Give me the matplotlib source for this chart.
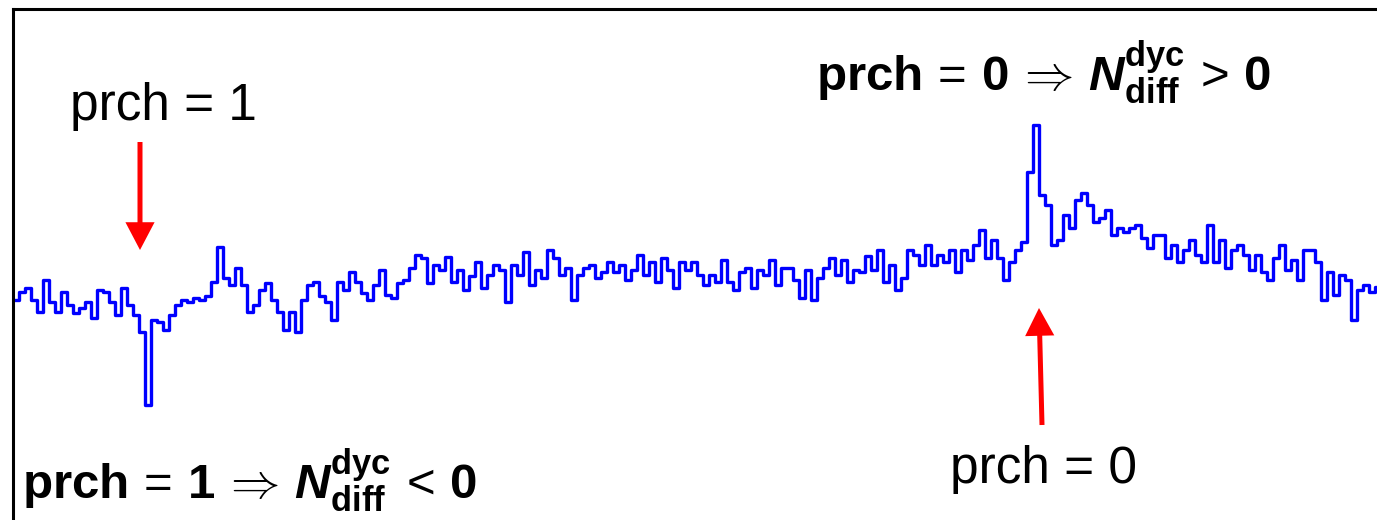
import matplotlib
matplotlib.use("Agg")
import matplotlib.pyplot as plt
from matplotlib.patches import FancyArrowPatch

# signal, one sample per step (arbitrary units, up = positive)
seg1 = [0, 8, 12, 0, -12, 20, -2, -12, 8, -5, -13, -8, -2, -18, 10, 8, -2, -15, 12, -5,
        -15, -32, -105, -20, -22, -30, -15, -5, 0, -2, 2, 0, 4]
seg2 = [18, 53, 22, 15, 32, 15, -12, -5, 10, 17, 0, -12, -30, -12, -32, 0, 15, 18, 4, -2,
        -20, 18, 10, 28, 18, 7, 0, 15, 30, 5, 2, 17]
seg3 = [20, 32, 45, 42, 17, 35, 30, 43, 18, 30, 10, 24, 38, 12, 25, 35, 30, -2, 35, 25,
        48, 15, 30, 22, 50, 42, 25, 32, 0, 25, 32, 35]
seg4 = [22, 28, 38, 28, 35, 20, 30, 45, 25, 38, 18, 42, 30, 12, 38, 30, 38, 25, 15, 25,
        18, 40, 18, 10, 28, 32, 12, 30, 25, 40, 15, 32]
seg5 = [32, 20, 2, 30, 0, 22, 32, 42, 25, 40, 18, 30, 28, 44, 30, 50, 18, 35, 10, 22,
        50, 45, 35, 55, 35, 45, 38, 50, 28, 50, 40]
seg6 = [55, 70, 42, 60, 42, 20, 38, 50, 58, 128, 175, 105, 95, 55, 60, 85, 72, 100, 107, 95,
        78, 82, 90, 65, 72, 68, 72, 75, 62, 52, 65, 65]
seg7 = [42, 55, 38, 50, 60, 45, 38, 75, 38, 60, 32, 50, 55, 45, 30, 45, 28, 20, 42, 55,
        30, 40, 20, 50, 50, 38, 0, 28, 5, 25, 20, -20, 10, 15, 8, 13]
signal = seg1 + seg2 + seg3 + seg4 + seg5 + seg6 + seg7
steps = list(range(len(signal) + 1))

label_top_left = "prch = 1"
label_bottom_right = "prch = 0"
label_top_right = (r"$\mathbf{prch}\,=\,\mathbf{0}\,\Rightarrow\,"
                   r"\mathbfit{N}_{\mathbf{diff}}^{\mathbf{dyc}}\,>\,\mathbf{0}$")
label_bottom_left = (r"$\mathbf{prch}\,=\,\mathbf{1}\,\Rightarrow\,"
                     r"\mathbfit{N}_{\mathbf{diff}}^{\mathbf{dyc}}\,<\,\mathbf{0}$")

plt.rcParams["font.family"] = "Liberation Sans"
plt.rcParams["mathtext.fontset"] = "custom"
plt.rcParams["mathtext.rm"] = "Liberation Sans"
plt.rcParams["mathtext.bf"] = "Liberation Sans:bold"
plt.rcParams["mathtext.it"] = "Liberation Sans:italic"
plt.rcParams["mathtext.bfit"] = "Liberation Sans:bold:italic"

W, H = 1377, 520
fig = plt.figure(figsize=(W / 100, H / 100), dpi=100)
# frame: left and top edges visible, right and bottom run off the picture
ax = fig.add_axes([13 / W, -20 / H, 1390 / W, 531 / H])
ax.step(steps, signal + [signal[-1]], where="post", color="#0000ff", lw=2.4)
ax.set_xlim(0, 1390 / 6)
ax.set_ylim(-240, 291)
ax.set_xticks([]); ax.set_yticks([])
for s in ax.spines.values():
    s.set_linewidth(2.2)


def fy(y):
    return 1 - y / H


fig.text(70 / W, fy(120), label_top_left, fontsize=37, va="baseline", ha="left")
fig.text(950 / W, fy(483), label_bottom_right, fontsize=37, va="baseline", ha="left")
fig.text(816 / W, fy(92), label_top_right, fontsize=35.5, va="baseline", ha="left")
fig.text(22 / W, fy(500), label_bottom_left, fontsize=35.5, va="baseline", ha="left")

arrow_style = "simple,head_width=21,head_length=20,tail_width=3.6"
for (x0, y0), (x1, y1) in [((140, 142), (140, 250)), ((1042, 425), (1039, 308))]:
    fig.add_artist(FancyArrowPatch((x0, H - y0), (x1, H - y1), transform=None,
                                   arrowstyle=arrow_style, mutation_scale=1,
                                   color="#ff0000", lw=0, shrinkA=0, shrinkB=0))

fig.savefig("out.png", dpi=100)
